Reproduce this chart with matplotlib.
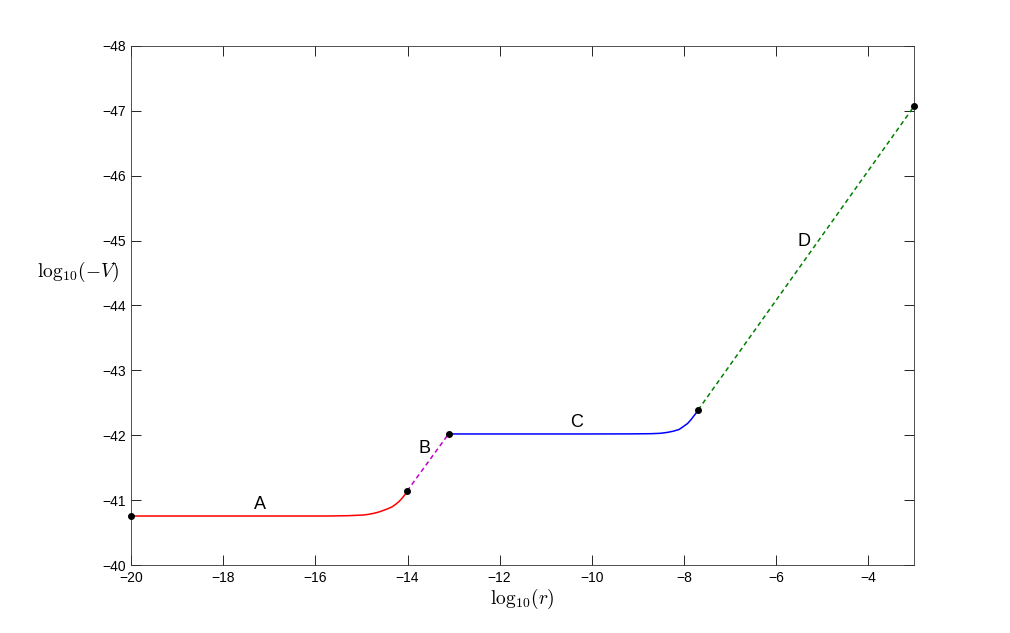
import matplotlib
matplotlib.use("Agg")
import matplotlib.pyplot as plt

plt.rcParams['font.family'] = ['Liberation Sans', 'DejaVu Sans']
plt.rcParams['mathtext.fontset'] = 'cm'

# segment A (red, solid)
a_x = [-20.0, -16.0, -15.67, -15.3, -14.95, -14.84, -14.73, -14.62, -14.52, -14.42,
       -14.33, -14.26, -14.19, -14.13, -14.08, -14.04, -14.01]
a_y = [-40.755, -40.755, -40.756, -40.760, -40.771, -40.782, -40.797, -40.818, -40.843, -40.870,
       -40.899, -40.935, -40.976, -41.02, -41.064, -41.10, -41.14]

# segment B (magenta, dashed)
b_x = [-14.01, -13.11]
b_y = [-41.14, -42.02]

# segment C (blue, solid)
c_x = [-13.11, -10.0, -9.2, -8.72, -8.51, -8.35, -8.22, -8.10, -8.00, -7.92, -7.85, -7.78, -7.73, -7.69]
c_y = [-42.02, -42.02, -42.021, -42.024, -42.03, -42.045, -42.064, -42.09, -42.14, -42.18, -42.235, -42.30, -42.345, -42.39]

# segment D (green, dashed)
d_x = [-7.69, -3.0]
d_y = [-42.39, -47.07]

# junction dots
dot_x = [-20.0, -14.01, -13.11, -7.69, -3.0]
dot_y = [-40.755, -41.14, -42.02, -42.39, -47.07]

# segment labels
lab_text = ['A', 'B', 'C', 'D']
lab_x = [-17.2, -13.63, -10.33, -5.39]
lab_y = [-40.94, -41.79, -42.2, -44.98]

fig = plt.figure(figsize=(10.1, 6.33), dpi=100)
ax = fig.add_axes([0.13, 0.1074, 0.775, 0.82])

ax.plot(a_x, a_y, color='red', lw=1.1)
ax.plot(b_x, b_y, color='#c000c8', lw=1.1, ls=(0, (3, 2.2)))
ax.plot(c_x, c_y, color='blue', lw=1.1)
ax.plot(d_x, d_y, color='#008000', lw=1.1, ls=(0, (3, 2.2)))
ax.plot(dot_x, dot_y, 'o', color='black', ms=4, clip_on=False, zorder=5)

for t, x, y in zip(lab_text, lab_x, lab_y):
    ax.text(x, y, t, fontsize=13, ha='center', va='center')

ax.set_xlim(-20, -3)
ax.set_ylim(-40, -48)
ax.set_xticks(range(-20, -3, 2))
ax.set_yticks(range(-40, -49, -1))

ax.tick_params(direction='in', length=7, width=0.6, top=True, right=True,
               labelsize=10, pad=4)
for s in ax.spines.values():
    s.set_linewidth(0.6)
    s.set_color('#333333')

ax.set_xlabel(r'$\mathrm{log}_{10}(r)$', fontsize=14, labelpad=2)
ax.set_ylabel(r'$\mathrm{log}_{10}(-V)$', fontsize=14, rotation=0,
              ha='center', va='center')
ax.yaxis.set_label_coords(-0.068, 0.565)

fig.savefig('out.png', dpi=100)
